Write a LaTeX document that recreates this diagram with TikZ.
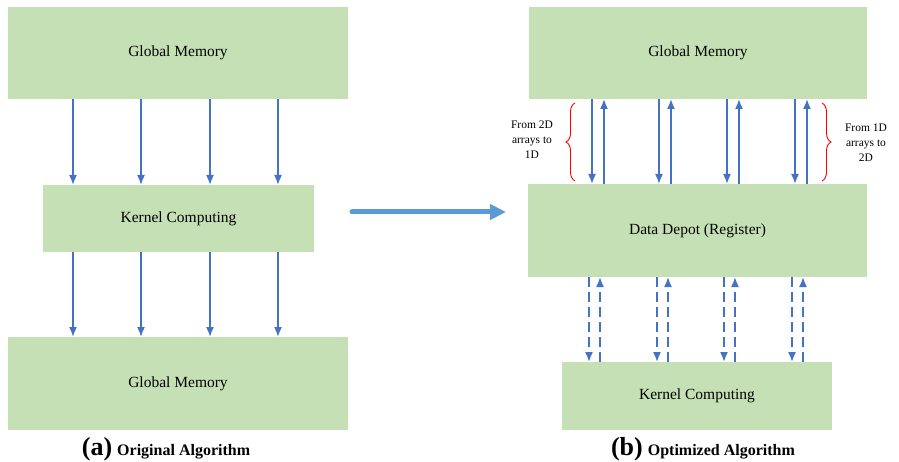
\documentclass[tikz,border=0pt]{standalone}
\usepackage{fontspec}
\setmainfont{Liberation Serif}
\usetikzlibrary{arrows.meta,decorations.pathreplacing}
\definecolor{boxgreen}{HTML}{C5E0B4}
\definecolor{arrblue}{HTML}{4472C4}
\definecolor{bigblue}{HTML}{5B9BD5}
\tikzset{
  membox/.style={fill=boxgreen,inner sep=0pt,outer sep=0pt,
    font=\fontsize{15.5}{18}\selectfont},
  arr/.style={arrblue,line width=1.6pt,-{Latex[length=10pt,width=8pt]}},
  darr/.style={arr,dash pattern=on 10pt off 5pt},
  bigarr/.style={bigblue,line width=5pt,line cap=round,
    -{Triangle[length=16pt,width=15pt]}},
  brc/.style={red,line width=0.9pt,decorate,decoration={brace,amplitude=9pt}},
  braceText/.style={align=center,font=\fontsize{11.5}{15}\selectfont},
  capText/.style={anchor=base}
}
\begin{document}
\begin{tikzpicture}[x=1pt,y=-1pt]
\useasboundingbox (0,0) rectangle (899,462);
% (a) original
\node[membox,minimum width=340pt,minimum height=92pt] (gmA) at (178,53) {Global Memory};
\node[membox,minimum width=271pt,minimum height=67pt] (kcA) at (178.5,218.5) {Kernel Computing};
\node[membox,minimum width=340pt,minimum height=93pt] (gmB) at (178,383.5) {Global Memory};
\foreach \x in {73,141,210,278} {
  \draw[arr] (gmA.south -| \x,0) -- (kcA.north -| \x,0);
  \draw[arr] (kcA.south -| \x,0) -- (gmB.north -| \x,0);
}
\node[capText] (capA) at (166,455) {{\fontsize{26}{28}\selectfont\bfseries(a)}\hspace{5pt}{\fontsize{16}{18}\selectfont\bfseries Original Algorithm}};
% move
\coordinate (mvA) at (352,212);
\coordinate (mvB) at (506,212);
\draw[bigarr] (mvA) -- (mvB);
% (b) optimized
\node[membox,minimum width=338pt,minimum height=92pt] (gmC) at (698,53) {Global Memory};
\node[membox,minimum width=339pt,minimum height=93pt] (ddC) at (697.5,230.5) {Data Depot (Register)};
\node[membox,minimum width=270pt,minimum height=68pt] (kcC) at (697,396) {Kernel Computing};
\foreach \x in {592,659,727,795} {
  \draw[arr] (gmC.south -| \x,0) -- (ddC.north -| \x,0);
  \draw[arr] (ddC.north -| \x+12,0) -- (gmC.south -| \x+12,0);
}
\foreach \x in {589,657,724,792} {
  \draw[darr] (ddC.south -| \x,0) -- (kcC.north -| \x,0);
  \draw[darr] (kcC.north -| \x+11,0) -- (ddC.south -| \x+11,0);
}
%\draw braces
\draw[brc] (575,181) -- (575,103);
\draw[brc] (822,103) -- (822,181);
\node[braceText] (lblL) at (532,140) {From 2D\\arrays to\\1D};
\node[braceText] (lblR) at (866,143) {From 1D\\arrays to\\2D};
\node[capText] (capB) at (703,455) {{\fontsize{26}{28}\selectfont\bfseries(b)}\hspace{5pt}{\fontsize{16}{18}\selectfont\bfseries Optimized Algorithm}};
\end{tikzpicture}
\end{document}
